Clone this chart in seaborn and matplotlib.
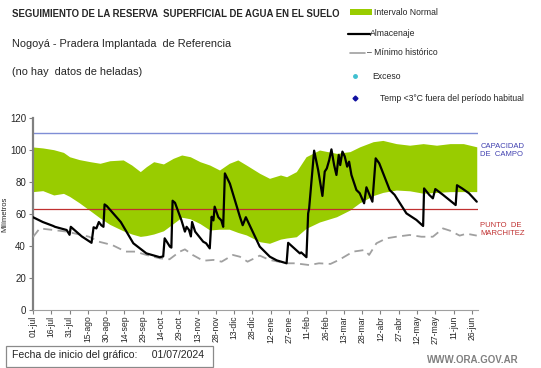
import numpy as np
import pandas as pd
import matplotlib.pyplot as plt
import seaborn as sns
from matplotlib.lines import Line2D
from matplotlib.patches import Rectangle

# Days since 01/07/2024
band_days = [0, 8, 17, 25, 30, 38, 47, 55, 63, 74, 81, 88, 93, 99, 107, 115, 122, 129, 137, 145,
             153, 161, 168, 175, 186, 194, 203, 208, 216, 224, 235, 249, 260, 268, 279, 287, 298,
             309, 320, 331, 342, 353, 364]
band_hi = [101.9, 101.3, 100.2, 98.5, 95.8, 94, 92.7, 91.7, 93.3, 93.8, 90.6, 86.5, 89.6, 92.7, 91.3,
           94.8, 96.9, 95.8, 92.7, 90.6, 87.5, 91.7, 93.8, 90.6, 85.4, 82.3, 84.4, 83.3, 86.5, 95.8,
           100, 97.9, 99, 102, 105.2, 106, 104, 103, 104, 103, 104, 104, 102]
band_lo = [74, 74.6, 71.9, 72.9, 71, 67, 62, 57.5, 53.5, 49.5, 47.5, 46, 46.5, 47.5, 49.5, 54, 58, 57,
           54, 50, 50.5, 50.5, 48.5, 46.9, 42.7, 41.7, 44.3, 45, 45.8, 51, 55, 58.3, 62.5, 67, 71.5,
           73.5, 75, 74.5, 73, 73.5, 74, 74, 74]

alm_days = [0, 8, 16.7, 18, 27.6, 30, 31, 40, 48, 49.7, 52, 54, 56, 57.8, 58.7, 60.5, 72, 82.3, 93,
            104, 106.8, 108, 112.3, 113.5, 114.5, 116.5, 121.8, 124.6, 126, 128, 129.5, 130.5, 133,
            139.6, 142, 145, 146.5, 148, 149, 152, 154.5, 156, 157.4, 161.5, 169.7, 172, 174.6, 186,
            194.3, 200, 208, 209.3, 218.9, 220, 224.3, 225.7, 226.5, 230.6, 233.9, 237.4, 239.3, 241,
            243, 244.8, 247, 248.9, 250.8, 252, 253.8, 255.7, 257.7, 259.3, 261.2, 265.3, 268, 271.6,
            273.5, 278.4, 281.1, 284, 292.6, 296.6, 306.3, 314.5, 320, 320.8, 325, 328, 330, 336.3,
            346.7, 347.8, 352, 357.6, 364]
alm_vals = [58, 55, 52.5, 52, 50, 47, 52, 46, 42, 51.7, 51, 55, 53, 52, 66, 65, 55, 41.7, 35.4,
            33, 33.5, 44.8, 39.6, 39, 68.3, 67, 56, 49, 52, 50, 46, 55, 49,
            42.7, 41.7, 38.5, 58.3, 56, 64.6, 58, 56, 52, 85.4, 79, 58.3, 53, 58, 39.6,
            33.3, 31, 29.2, 42, 35.4, 36, 33, 60.4, 63.5, 99.6, 87.5, 71.3, 86.5, 88.5,
            93.8, 100.4, 90.6, 84.4, 96.9, 90.6, 99, 96, 89.6, 92.7, 84.4, 75, 73, 66.7,
            76.7, 67.7, 94.8, 91.7, 75, 72, 60.4, 56.3, 52.5, 76, 72, 69.8, 75.6, 72,
            65.6, 78, 76, 73, 67.7]

min_days = [0, 5.5, 16.7, 27.6, 46, 54, 65, 76, 84, 93, 104, 112, 120.4, 124.6, 131, 139.6, 148,
            154.7, 164, 169.7, 176, 186, 194, 208, 215, 226.5, 234.6, 244, 251, 262.6, 272, 275.7,
            281.7, 289.9, 298, 309, 318.6, 328, 336.3, 342, 350, 355.6, 364]
min_vals = [45.6, 51, 50, 49, 45.8, 42.7, 40.6, 36.5, 36.5, 34.4, 32.3, 31.7, 36.5, 37.9, 34.4, 30.8,
            31.3, 30.2, 34.4, 33.3, 30.2, 34, 31.3, 29.2, 29.2, 28.1, 29.2, 28.8, 31.3, 36.5, 37.5,
            34.4, 41.7, 44.8, 45.8, 46.9, 45.8, 45.8, 51, 49.6, 46.5, 47.7, 46.5]

capacidad = 110.8
marchitez = 63.2

tick_labels = ['01-jul', '16-jul', '31-jul', '15-ago', '30-ago', '14-sep', '29-sep', '14-oct',
               '29-oct', '13-nov', '28-nov', '13-dic', '28-dic', '12-ene', '27-ene', '11-feb',
               '26-feb', '13-mar', '28-mar', '12-abr', '27-abr', '12-may', '27-may', '11-jun',
               '26-jun']

sns.set_style("white")
plt.rcParams['font.family'] = ['Liberation Sans', 'DejaVu Sans']

fig = plt.figure(figsize=(5.41, 3.68), dpi=100)
ax = fig.add_axes([0.061, 0.1576, 0.8225, 0.5217])

green = '#99cc00'
ax.fill_between(band_days, band_lo, band_hi, color=green, lw=0, zorder=1)
ax.axhline(capacidad, color='#7f8ed6', lw=1.0, zorder=2)
ax.axhline(marchitez, color='#c03030', lw=0.9, zorder=2)

df_min = pd.DataFrame({'dia': min_days, 'mm': min_vals})
df_alm = pd.DataFrame({'dia': alm_days, 'mm': alm_vals})
sns.lineplot(data=df_min, x='dia', y='mm', ax=ax, color='#a0a0a0', lw=1.3,
             dashes=False, zorder=3).lines[-1].set_dashes([5, 3])
sns.lineplot(data=df_alm, x='dia', y='mm', ax=ax, color='black', lw=1.6, zorder=4)

ax.set_xlim(0, 365)
ax.set_ylim(0, 120)
ax.set_yticks(np.arange(0, 121, 20))
ax.set_xticks(np.arange(len(tick_labels)) * 15)
ax.set_xticklabels(tick_labels, rotation=90, fontsize=6.2)
ax.tick_params(axis='y', labelsize=7, length=3, direction='out', left=True, color='#808080', pad=2)
ax.tick_params(axis='x', length=3, direction='out', bottom=True, color='#808080', pad=1)
ax.set_xlabel('')
ax.set_ylabel('Milímetros', fontsize=5.5)
ax.yaxis.set_label_coords(-0.056, 0.5)
for s in ['top', 'right']:
    ax.spines[s].set_visible(False)
ax.spines['left'].set_color('#808080')
ax.spines['left'].set_linewidth(1.6)
ax.spines['bottom'].set_color('#a0a0a0')
ax.spines['bottom'].set_linewidth(0.8)

# Labels on the right
ax.text(367, capacidad - 11, 'CAPACIDAD\nDE  CAMPO', color='#4040b0', fontsize=5.5,
        va='center', ha='left', linespacing=1.3, clip_on=False)
ax.text(367, marchitez - 13, 'PUNTO  DE\nMARCHITEZ', color='#c03030', fontsize=5.5,
        va='center', ha='left', linespacing=1.3, clip_on=False)

# Titles
fig.text(0.022, 0.962, 'SEGUIMIENTO DE LA RESERVA  SUPERFICIAL DE AGUA EN EL SUELO',
         fontsize=6.9, fontweight='bold', va='center')
fig.text(0.022, 0.880, 'Nogoyá - Pradera Implantada  de Referencia', fontsize=7.9, va='center')
fig.text(0.022, 0.805, '(no hay  datos de heladas)', fontsize=7.9, va='center')

# Legend (drawn by hand to match the layout)
ly = [0.967, 0.908, 0.856, 0.793, 0.733]
fig.add_artist(Rectangle((0.647, ly[0] - 0.009), 0.040, 0.018, transform=fig.transFigure,
                         color=green, lw=0))
fig.add_artist(Line2D([0.643, 0.684], [ly[1], ly[1]], transform=fig.transFigure,
                      color='black', lw=1.6))
fig.add_artist(Line2D([0.647, 0.675], [ly[2], ly[2]], transform=fig.transFigure,
                      color='#a0a0a0', lw=1.2))
fig.add_artist(Line2D([0.656], [ly[3]], transform=fig.transFigure, marker='o',
                      color='#40c0d0', markersize=2.5, lw=0))
fig.add_artist(Line2D([0.656], [ly[4]], transform=fig.transFigure, marker='D',
                      color='#1010a0', markersize=2.5, lw=0))
leg_text = ['Intervalo Normal', 'Almacenaje', '– Mínimo histórico', 'Exceso',
            'Temp <3°C fuera del período habitual']
leg_x = [0.691, 0.684, 0.678, 0.689, 0.702]
for t, x, y in zip(leg_text, leg_x, ly):
    fig.text(x, y, t, fontsize=6.2, va='center')

# Start date box
fig.add_artist(Rectangle((0.012, 0.003), 0.382, 0.058, transform=fig.transFigure,
                         fill=False, edgecolor='#8a8a8a', lw=0.9))
fig.text(0.022, 0.034, 'Fecha de inicio del gráfico:     01/07/2024', fontsize=7.6, va='center')
fig.text(0.959, 0.022, 'WWW.ORA.GOV.AR', fontsize=7, fontweight='bold', color='#808080',
         ha='right', va='center')

fig.savefig('out.png', dpi=100)
